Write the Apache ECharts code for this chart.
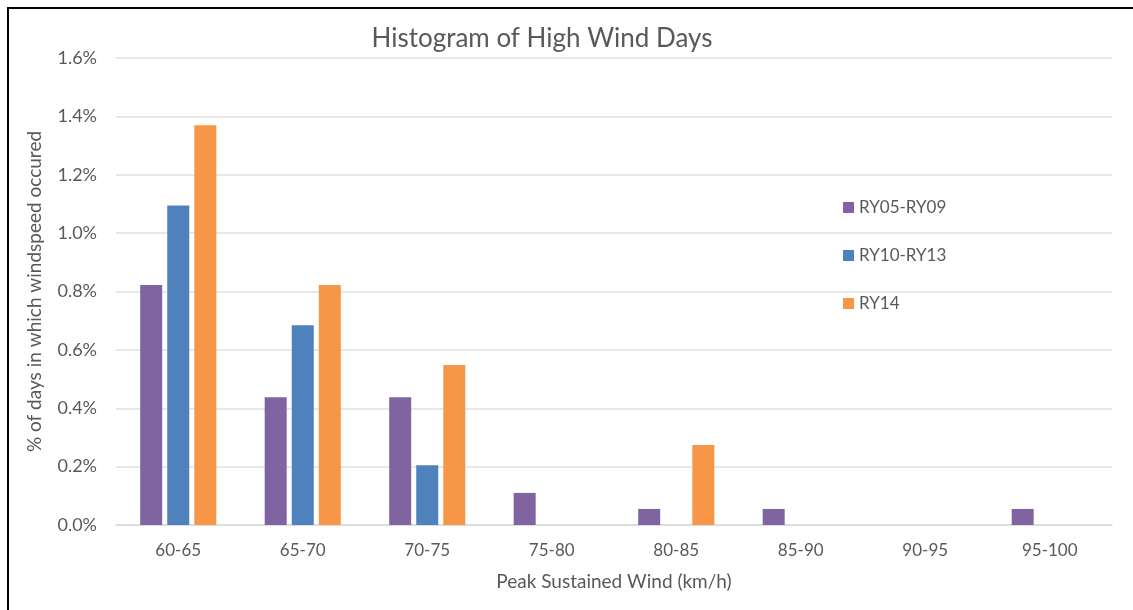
<!DOCTYPE html>
<html>
<head>
<meta charset="utf-8">
<script src="https://cdn.jsdelivr.net/npm/echarts@6/dist/echarts.min.js"></script>
<style>
  html, body { margin: 0; padding: 0; background: #fff; }
  #chart { width: 1133px; height: 610px; }
</style>
</head>
<body>
<div id="chart"></div>
<script>
// wind speed bins (km/h)
var bins = ['60-65', '65-70', '70-75', '75-80', '80-85', '85-90', '90-95', '95-100'];

// % of days per bin
var ry05_09 = [0.822, 0.438, 0.438, 0.110, 0.055, 0.055, 0, 0.055];
var ry10_13 = [1.095, 0.684, 0.205, 0, 0, 0, 0, 0];
var ry14 = [1.370, 0.822, 0.548, 0, 0.274, 0, 0, 0];

var seriesNames = ['RY05-RY09', 'RY10-RY13', 'RY14'];
var seriesColors = ['#8064a2', '#4f81bd', '#f79646'];

var textGrey = '#595959';
var fontName = 'Lato, "Open Sans", sans-serif';

var chart = echarts.init(document.getElementById('chart'));

var option = {
	animation: false,
	backgroundColor: '#fff',
	title: {
		text: 'Histogram of High Wind Days',
		left: 537,
		top: 21,
		textAlign: 'center',
		textStyle: { color: textGrey, fontSize: 26, fontWeight: 'normal', fontFamily: fontName }
	},
	legend: {
		orient: 'vertical',
		left: 838,
		top: 194,
		itemWidth: 11,
		itemHeight: 11,
		itemGap: 31,
		icon: 'rect',
		textStyle: { color: textGrey, fontSize: 17, fontFamily: fontName },
		data: seriesNames
	},
	grid: {
		left: 116,
		right: 21,
		top: 58,
		bottom: 85
	},
	xAxis: {
		type: 'category',
		data: bins,
		name: 'Peak Sustained Wind (km/h)',
		nameLocation: 'middle',
		nameGap: 47,
		nameTextStyle: { color: textGrey, fontSize: 19, fontFamily: fontName },
		axisLine: { lineStyle: { color: '#d9d9d9', width: 1.5 } },
		axisTick: { show: false },
		axisLabel: { color: textGrey, fontSize: 17, margin: 17, fontFamily: fontName }
	},
	yAxis: {
		type: 'value',
		min: 0,
		max: 1.6,
		interval: 0.2,
		name: '% of days in which windspeed occured',
		nameLocation: 'middle',
		nameGap: 72,
		nameTextStyle: { color: textGrey, fontSize: 19, fontFamily: fontName },
		axisLine: { show: false },
		axisTick: { show: false },
		axisLabel: {
			color: textGrey,
			fontSize: 18,
			margin: 19,
			fontFamily: fontName,
			formatter: function(v) { return v.toFixed(1) + '%'; }
		},
		splitLine: { lineStyle: { color: '#e0e0e0', width: 1.5 } }
	},
	graphic: [
		{ type: 'line', shape: { x1: 7, y1: 8, x2: 1133, y2: 8 }, style: { stroke: '#000', lineWidth: 2 } },
		{ type: 'line', shape: { x1: 8, y1: 8, x2: 8, y2: 610 }, style: { stroke: '#000', lineWidth: 2 } }
	],
	series: [
		{ name: seriesNames[0], type: 'bar', data: ry05_09, barWidth: 22, barGap: '23%', itemStyle: { color: seriesColors[0] } },
		{ name: seriesNames[1], type: 'bar', data: ry10_13, barWidth: 22, barGap: '23%', itemStyle: { color: seriesColors[1] } },
		{ name: seriesNames[2], type: 'bar', data: ry14, barWidth: 22, barGap: '23%', itemStyle: { color: seriesColors[2] } }
	]
};

chart.setOption(option);
</script>
</body>
</html>
